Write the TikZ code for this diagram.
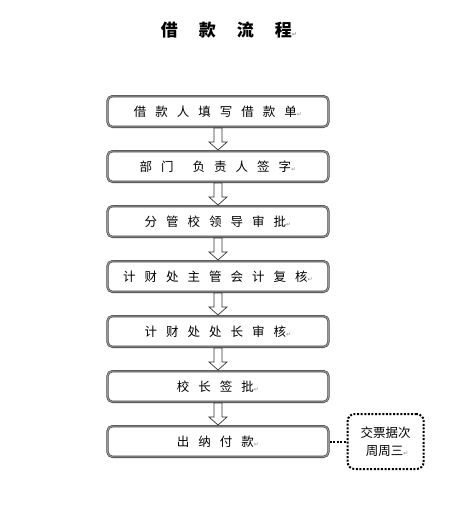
\documentclass[tikz,border=0pt]{standalone}
\usepackage{fontspec}
\newfontfamily\cjk{Noto Sans CJK SC}
\newfontfamily\symfont{DejaVu Sans}
\usepackage{tikz}
\usetikzlibrary{positioning, calc}

% paragraph mark as printed in the picture
\newcommand\pmark{{\symfont\fontsize{6}{6}\selectfont\color{black!45}↵}}
% gaps between the characters
\newcommand\gap{\hspace{9pt}}
\newcommand\tgap{\hspace{21pt}}

\begin{document}
\begin{tikzpicture}[
    x=1pt, y=-1pt,
    node distance=22pt,
    stepbox/.style={draw=black!75, double=black!40, double distance=1.1pt, line width=0.6pt, outer sep=1.15pt, rounded corners=5pt, fill=white, minimum height=30.7pt, minimum width=221pt, inner sep=0pt, align=center, font=\cjk\fontsize{12.5}{15}\selectfont},
    notebox/.style={draw, dash pattern=on 2pt off 1.6pt, line width=2pt, rounded corners=7pt, minimum height=55pt, minimum width=76pt, inner sep=0pt, align=center, font=\cjk\fontsize{12.5}{18}\selectfont},
    hollow/.style={draw=black!80, line width=0.7pt, fill=white},
    dotline/.style={draw, dash pattern=on 2pt off 1.6pt, line width=2pt}
]
    \useasboundingbox (0,0) rectangle (469,520);

    % Title
    \node[font=\cjk\bfseries\fontsize{17}{19}\selectfont] (title) at (229,30) {借\tgap 款\tgap 流\tgap 程\pmark};

    % Steps
    \node[stepbox] (s1) at (218,111.5) {借\gap 款\gap 人\gap 填\gap 写\gap 借\gap 款\gap 单\pmark};
    \node[stepbox, below=of s1] (s2) {部\gap 门\hspace{19pt}负\gap 责\gap 人\gap 签\gap 字\pmark};
    \node[stepbox, below=of s2] (s3) {分\gap 管\gap 校\gap 领\gap 导\gap 审\gap 批\pmark};
    \node[stepbox, below=of s3] (s4) {计\gap 财\gap 处\gap 主\gap 管\gap 会\gap 计\gap 复\gap 核\pmark};
    \node[stepbox, below=of s4] (s5) {计\gap 财\gap 处\gap 处\gap 长\gap 审\gap 核\pmark};
    \node[stepbox, below=of s5] (s6) {校\gap 长\gap 签\gap 批\pmark};
    \node[stepbox, below=of s6] (s7) {出\gap 纳\gap 付\gap 款\pmark};

    % Note
    \node[notebox, right=17pt of s7] (note) {交票据次\\\ 周周三\pmark};

    % Hollow arrows
    \foreach \a/\b in {s1/s2, s2/s3, s3/s4, s4/s5, s5/s6, s6/s7}
        \draw[hollow] ($(\a.south)+(-4,0)$) -- ($(\b.north)+(-4,-8)$) -- ($(\b.north)+(-9,-8)$) -- (\b.north)
            -- ($(\b.north)+(9,-8)$) -- ($(\b.north)+(4,-8)$) -- ($(\a.south)+(4,0)$) -- cycle;

    % Dotted link
    \draw[dotline] (s7.east) -- (note.west);
\end{tikzpicture}
\end{document}
